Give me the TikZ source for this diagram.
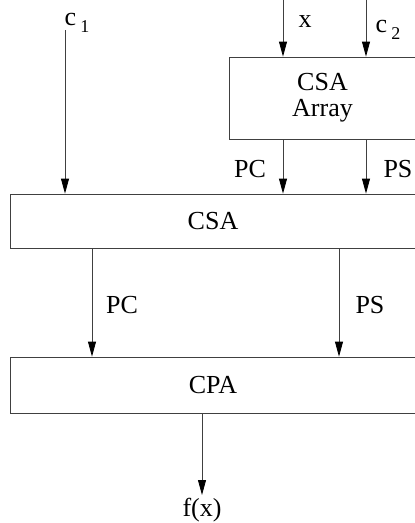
\documentclass[tikz,border=0pt]{standalone}
\usepackage{fontspec}
\setmainfont{Liberation Serif}
\usepackage{tikz}
\usetikzlibrary{arrows.meta}
\usetikzlibrary{positioning}
\tikzstyle{blk}=[rectangle,draw=black!75,line width=0.8pt,inner sep=0pt,align=center]
\tikzstyle{lbl}=[inner sep=0pt,anchor=base]
\tikzstyle{sig}=[draw=black!75,line width=0.8pt,-{Triangle[length=15pt,width=8pt,color=black]}]
\newcommand*{\sublow}[1]{\raisebox{-7pt}{\fontsize{18}{18}\selectfont #1}}

\begin{document}
\begin{tikzpicture}[x=1pt,y=-1pt,every node/.style={font=\fontsize{26}{30}\selectfont}]
\useasboundingbox (0,0) rectangle (415,523);

%boxes
\node[blk, minimum width=187pt, minimum height=82pt] (arr) at (322.5,98) {CSA\\[-4pt]Array};
\node[blk, minimum width=406pt, minimum height=54pt] (csa) at (213,221) {CSA};
\node[blk, minimum width=406pt, minimum height=56pt] (cpa) at (213,385) {CPA};

%inputs
\coordinate (c1in) at (65,30);
\coordinate (xin) at (283,0);
\coordinate (c2in) at (366,0);
\node[lbl] (c1) at (77,25) {c\,\sublow{1}};
\node[lbl] (xl) at (305,27) {x};
\node[lbl] (c2) at (388,32) {c\,\sublow{2}};

\draw[sig] (c1in) -- (c1in |- csa.north);
\draw[sig] (xin) -- (xin |- arr.north);
\draw[sig] (c2in) -- (c2in |- arr.north);

%array to csa
\draw[sig] (xin |- arr.south) -- (xin |- csa.north);
\draw[sig] (c2in |- arr.south) -- (c2in |- csa.north);
\node[lbl] (pc1) at (250,177) {PC};
\node[lbl] (ps1) at (398,177) {PS};

%csa to cpa
\coordinate (pcout) at (92,0);
\coordinate (psout) at (339,0);
\draw[sig] (pcout |- csa.south) -- (pcout |- cpa.north);
\draw[sig] (psout |- csa.south) -- (psout |- cpa.north);
\node[lbl] (pc2) at (122,313) {PC};
\node[lbl] (ps2) at (370,313) {PS};

%output
\coordinate (fout) at (202,495);
\draw[sig] (fout |- cpa.south) -- (fout);
\node[lbl] (f) at (202,516) {f(x)};

\end{tikzpicture}
\end{document}
